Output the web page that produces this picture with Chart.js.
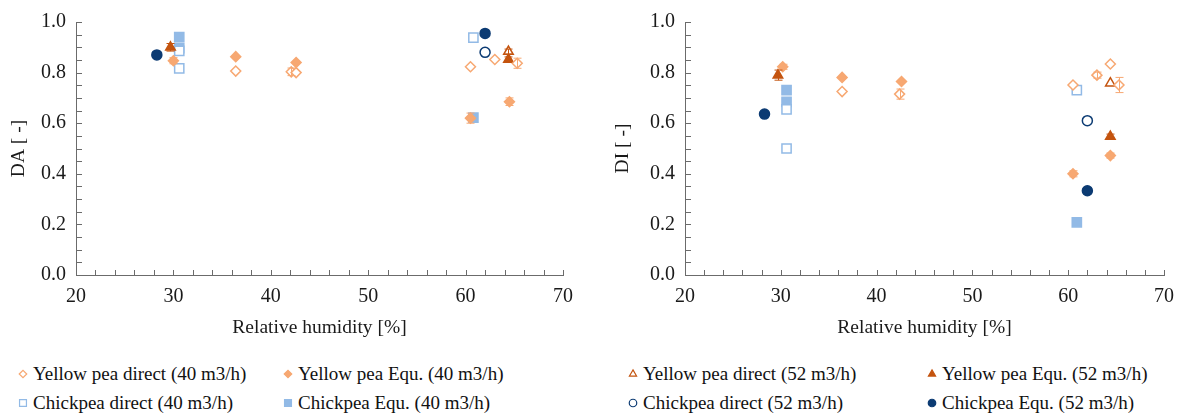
<!DOCTYPE html>
<html>
<head>
<meta charset="utf-8">
<script src="https://cdn.jsdelivr.net/npm/chart.js@4.4.0/dist/chart.umd.min.js"></script>
<style>
    body { margin: 0; background: #fff; width: 1184px; height: 414px; overflow: hidden;
           font-family: 'Liberation Serif', Tinos, 'Times New Roman', Times, 'DejaVu Serif', serif; }
    .box { position: absolute; top: 0; height: 345px; }
    #boxDA { left: 0; width: 590px; }
    #boxDI { left: 604px; width: 580px; }
    .leg { position: absolute; font-size: 19px; color: #111; white-space: nowrap; line-height: 20px; }
    .leg canvas { position: absolute; left: -16px; top: 4px; }
</style>
</head>
<body>
<div class="box" id="boxDA"><canvas id="chartDA"></canvas></div>
<div class="box" id="boxDI"><canvas id="chartDI"></canvas></div>
<div id="legend"></div>

<script>
// Series labels (legend order)
const seriesNames = [
    'Yellow pea direct (40 m3/h)', 'Yellow pea Equ. (40 m3/h)',
    'Yellow pea direct (52 m3/h)', 'Yellow pea Equ. (52 m3/h)',
    'Chickpea direct (40 m3/h)', 'Chickpea Equ. (40 m3/h)',
    'Chickpea direct (52 m3/h)', 'Chickpea Equ. (52 m3/h)'
];

// Points as [relative humidity %, value, error] - DA chart
const daYpDirect40 = [[36.4, 0.806, 0], [42.1, 0.803, 0.015], [42.6, 0.800, 0], [60.5, 0.823, 0], [63.0, 0.852, 0], [65.3, 0.837, 0.02]];
const daYpEqu40    = [[30.0, 0.847, 0.012], [36.4, 0.863, 0], [42.6, 0.840, 0], [60.5, 0.620, 0.02], [64.5, 0.685, 0.015]];
const daYpDirect52 = [[64.4, 0.883, 0.01]];
const daYpEqu52    = [[29.7, 0.900, 0.015], [64.4, 0.852, 0.01]];
const daCpDirect40 = [[30.6, 0.886, 0], [30.6, 0.817, 0], [60.8, 0.938, 0]];
const daCpEqu40    = [[30.6, 0.940, 0], [30.6, 0.897, 0], [60.8, 0.622, 0]];
const daCpDirect52 = [[62.0, 0.880, 0]];
const daCpEqu52    = [[28.3, 0.870, 0], [62.0, 0.955, 0]];

// Points as [relative humidity %, value, error] - DI chart
const diYpDirect40 = [[36.4, 0.725, 0], [42.4, 0.715, 0.02], [60.5, 0.751, 0], [63.0, 0.790, 0.012], [64.4, 0.834, 0], [65.3, 0.751, 0.03]];
const diYpEqu40    = [[30.2, 0.823, 0.01], [36.4, 0.781, 0], [42.6, 0.765, 0], [60.5, 0.400, 0.012], [64.4, 0.472, 0.01]];
const diYpDirect52 = [[64.4, 0.758, 0]];
const diYpEqu52    = [[29.7, 0.790, 0.02], [64.4, 0.547, 0.01]];
const diCpDirect40 = [[30.6, 0.655, 0], [30.6, 0.500, 0], [60.9, 0.731, 0]];
const diCpEqu40    = [[30.6, 0.731, 0], [30.6, 0.684, 0], [60.9, 0.208, 0]];
const diCpDirect52 = [[62.0, 0.610, 0]];
const diCpEqu52    = [[28.3, 0.636, 0], [62.0, 0.333, 0.012]];

// Axis ticks
const xMin = 20, xMax = 70, xStep = 10, xMinorStep = 2;
const yMin = 0, yMax = 1, yStep = 0.2, yMinorStep = 0.05;

// Marker styles per series
const lightOrange = '#F7A872';
const darkOrange = '#C4540F';
const lightBlue = '#92BAE6';
const navy = '#0C3B73';
const markerStyles = [
    { shape: 'rectRot', color: lightOrange, open: true, r: 5 },
    { shape: 'rectRot', color: lightOrange, open: false, r: 5 },
    { shape: 'triangle', color: darkOrange, open: true, r: 5.5 },
    { shape: 'triangle', color: darkOrange, open: false, r: 5.5 },
    { shape: 'rect', color: lightBlue, open: true, r: 6.5 },
    { shape: 'rect', color: lightBlue, open: false, r: 6.5 },
    { shape: 'circle', color: navy, open: true, r: 5 },
    { shape: 'circle', color: navy, open: false, r: 5 }
];

const axisColor = '#6b6b6b';
const textColor = '#1a1a1a';
const fontFamily = "'Liberation Serif', Tinos, 'Times New Roman', Times, 'DejaVu Serif', serif";

// Inner tick marks (major + minor)
const innerTicks = {
    id: 'innerTicks',
    afterDraw(chart) {
        const { ctx, chartArea } = chart;
        const x = chart.scales.x, y = chart.scales.y;
        ctx.save();
        ctx.strokeStyle = axisColor;
        ctx.lineWidth = 1;
        ctx.beginPath();
        for (let v = xMin + xMinorStep; v <= xMax + 1e-9; v += xMinorStep) {
            const px = Math.round(x.getPixelForValue(v)) + 0.5;
            ctx.moveTo(px, chartArea.bottom);
            ctx.lineTo(px, chartArea.bottom - 5);
        }
        for (let v = yMin + yMinorStep; v <= yMax + 1e-9; v += yMinorStep) {
            const py = Math.round(y.getPixelForValue(v)) + 0.5;
            ctx.moveTo(chartArea.left, py);
            ctx.lineTo(chartArea.left + 6, py);
        }
        ctx.stroke();
        ctx.restore();
    }
};

// Vertical error bars with caps
const errorBars = {
    id: 'errorBars',
    afterDatasetsDraw(chart) {
        const { ctx } = chart;
        const x = chart.scales.x, y = chart.scales.y;
        ctx.save();
        ctx.lineWidth = 1;
        chart.data.datasets.forEach(ds => {
            ctx.strokeStyle = ds.borderColor;
            ds.data.forEach(p => {
                if (!p.err) return;
                const px = Math.round(x.getPixelForValue(p.x)) + 0.5;
                const top = y.getPixelForValue(p.y + p.err);
                const bot = y.getPixelForValue(p.y - p.err);
                ctx.beginPath();
                ctx.moveTo(px, top); ctx.lineTo(px, bot);
                ctx.moveTo(px - 4, top); ctx.lineTo(px + 4, top);
                ctx.moveTo(px - 4, bot); ctx.lineTo(px + 4, bot);
                ctx.stroke();
            });
        });
        ctx.restore();
    }
};

function toPoints(list) {
    return list.map(p => ({ x: p[0], y: p[1], err: p[2] }));
}

function createScatter(canvasId, yTitle, seriesData, yAxisWidth, padRight) {
    const ctx = document.getElementById(canvasId).getContext('2d');
    return new Chart(ctx, {
        type: 'scatter',
        data: {
            datasets: seriesData.map((list, i) => {
                const st = markerStyles[i];
                return {
                    label: seriesNames[i],
                    data: toPoints(list),
                    pointStyle: st.shape,
                    pointRadius: st.r,
                    pointHoverRadius: st.r,
                    borderColor: st.color,
                    backgroundColor: st.open ? '#ffffff' : st.color,
                    borderWidth: 1.5
                };
            })
        },
        options: {
            responsive: true,
            maintainAspectRatio: false,
            animation: false,
            layout: { padding: { top: 22, right: padRight, left: 0, bottom: 0 } },
            plugins: { legend: { display: false }, tooltip: { enabled: false } },
            scales: {
                x: {
                    type: 'linear',
                    min: xMin, max: xMax,
                    afterFit: s => { s.height = 70; },
                    grid: { display: false, drawTicks: false },
                    border: { display: true, color: axisColor, width: 1 },
                    ticks: { stepSize: xStep, padding: 10, color: textColor,
                             font: { family: fontFamily, size: 20 } },
                    title: { display: true, text: 'Relative humidity [%]', color: textColor,
                             font: { family: fontFamily, size: 19.5 }, padding: { top: 4, bottom: 5 } }
                },
                y: {
                    min: yMin, max: yMax,
                    afterFit: s => { s.width = yAxisWidth; },
                    grid: { display: false, drawTicks: false },
                    border: { display: true, color: axisColor, width: 1 },
                    ticks: { stepSize: yStep, padding: 10, color: textColor,
                             font: { family: fontFamily, size: 20 },
                             callback: v => v.toFixed(1) },
                    title: { display: true, text: yTitle, color: textColor,
                             font: { family: fontFamily, size: 19.5 }, padding: { top: 7, bottom: 4 } }
                }
            }
        },
        plugins: [innerTicks, errorBars]
    });
}

createScatter('chartDA', 'DA [ -]',
    [daYpDirect40, daYpEqu40, daYpDirect52, daYpEqu52, daCpDirect40, daCpEqu40, daCpDirect52, daCpEqu52],
    76, 27);
createScatter('chartDI', 'DI [ -]',
    [diYpDirect40, diYpEqu40, diYpDirect52, diYpEqu52, diCpDirect40, diCpEqu40, diCpDirect52, diCpEqu52],
    81, 12);

// Legend below the charts, markers drawn with Chart.js's own point helper
const legendCols = [33, 298, 643, 942];
const legendRows = [364, 393];
const legend = document.getElementById('legend');
seriesNames.forEach((name, i) => {
    const st = markerStyles[i];
    const item = document.createElement('div');
    item.className = 'leg';
    item.style.left = legendCols[i % 4] + 'px';
    item.style.top = legendRows[Math.floor(i / 4)] + 'px';
    const c = document.createElement('canvas');
    c.width = 12; c.height = 12;
    const g = c.getContext('2d');
    g.fillStyle = st.open ? '#ffffff' : st.color;
    g.strokeStyle = st.color;
    g.lineWidth = 1.2;
    Chart.helpers.drawPoint(g, { pointStyle: st.shape, radius: st.r * 0.75, rotation: 0, borderWidth: 1.2 }, 6, 6);
    item.appendChild(c);
    item.appendChild(document.createTextNode(name));
    legend.appendChild(item);
});
</script>
</body>
</html>
